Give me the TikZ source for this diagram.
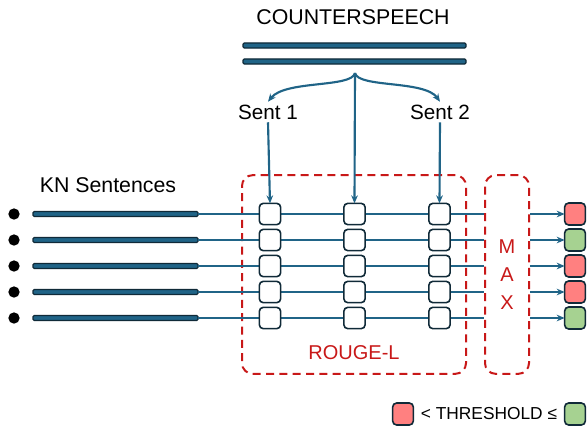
\documentclass[tikz,border=0pt]{standalone}
\usepackage{fontspec}
\setmainfont{Liberation Sans}
\usetikzlibrary{arrows.meta}
\definecolor{wire}{RGB}{32,100,135}
\definecolor{edgedark}{RGB}{16,42,56}
\definecolor{lowred}{RGB}{255,128,128}
\definecolor{highgreen}{RGB}{166,210,145}
\definecolor{dashred}{RGB}{200,24,24}

\begin{document}
\begin{tikzpicture}[x=0.75pt,y=-0.75pt,
  textlabel/.style={font=\fontsize{16}{19}\selectfont, inner sep=2pt},
  sentlabel/.style={font=\fontsize{15.5}{18}\selectfont, inner sep=2pt},
  bar/.style={draw=edgedark, fill=wire, line width=0.9pt, rounded corners=1pt,
    minimum height=3.8pt, inner sep=0pt, outer sep=0pt},
  cell/.style={draw=edgedark, fill=white, line width=1.2pt, rounded corners=3pt,
    minimum width=16pt, minimum height=16pt, inner sep=0pt, outer sep=0pt},
  outbox/.style={cell, minimum width=15.5pt, minimum height=16.5pt},
  dot/.style={circle, fill=black, minimum size=8.5pt, inner sep=0pt},
  group/.style={draw=dashred, line width=1.5pt, dash pattern=on 6pt off 4pt,
    rounded corners=8pt, inner sep=0pt, minimum height=149pt},
  wireline/.style={draw=wire, line width=1.6pt},
  arrowline/.style={wireline, -{Stealth[length=6pt,width=5pt]}},
  redtext/.style={text=dashred, font=\fontsize{15}{18}\selectfont, inner sep=0pt}
]
\useasboundingbox (0,0) rectangle (587,430);

% counterspeech and its two sentences
\node[textlabel] (cs) at (353,17) {COUNTERSPEECH};
\node[bar, minimum width=167.25pt] (cbar1) at (354.5,45.5) {};
\node[bar, minimum width=167.25pt] (cbar2) at (354.5,61.5) {};
\coordinate (split) at (355,73);
\node[sentlabel] (sent1) at (268,112) {Sent 1};
\node[sentlabel] (sent2) at (440,112) {Sent 2};
\node[textlabel] (kn) at (108,185) {KN Sentences};

% scoring groups
\node[group, minimum width=168pt] (rouge) at (354,274.5) {};
\node[group, minimum width=33pt] (max) at (507,274.5) {};
\node[redtext] (rougelabel) at (354,353) {ROUGE-L};
\node[redtext] (mm) at (507,247) {M};
\node[redtext] (ma) at (507,275) {A};
\node[redtext] (mx) at (507,303) {X};

% knowledge sentences, ROUGE-L cells and outcomes
\foreach \i/\y/\res in {1/214/lowred,2/240/highgreen,3/266/lowred,4/292/lowred,5/318/highgreen}{
  \node[dot] (d\i) at (14,\y) {};
  \node[bar, minimum width=123.75pt] (k\i) at (115.5,\y) {};
  \draw[wireline] (k\i.east) -- (k\i.east -| max.west);
  \node[cell] (c\i a) at (270,\y) {};
  \node[cell] (c\i b) at (354.5,\y) {};
  \node[cell] (c\i c) at (439.5,\y) {};
  \node[outbox, fill=\res] (o\i) at (575,\y) {};
  \draw[arrowline] (k\i.east -| max.east) -- (o\i.west);
}

% sentence split of the counterspeech
\draw[arrowline] (split) .. controls (352,88) and (285,80) .. (sent1.north);
\draw[arrowline] (split) .. controls (358,88) and (425,80) .. (sent2.north);
\draw[arrowline] (split) -- (c1b.north);
\draw[arrowline] (sent1.south) -- (c1a.north);
\draw[arrowline] (sent2.south) -- (c1c.north);

% legend
\node[outbox, fill=lowred] (lowkey) at (403,414) {};
\node[font=\fontsize{13}{15}\selectfont, inner sep=0pt] (thr) at (489,414) {< THRESHOLD ≤};
\node[outbox, fill=highgreen] (highkey) at (575,414) {};
\end{tikzpicture}
\end{document}
